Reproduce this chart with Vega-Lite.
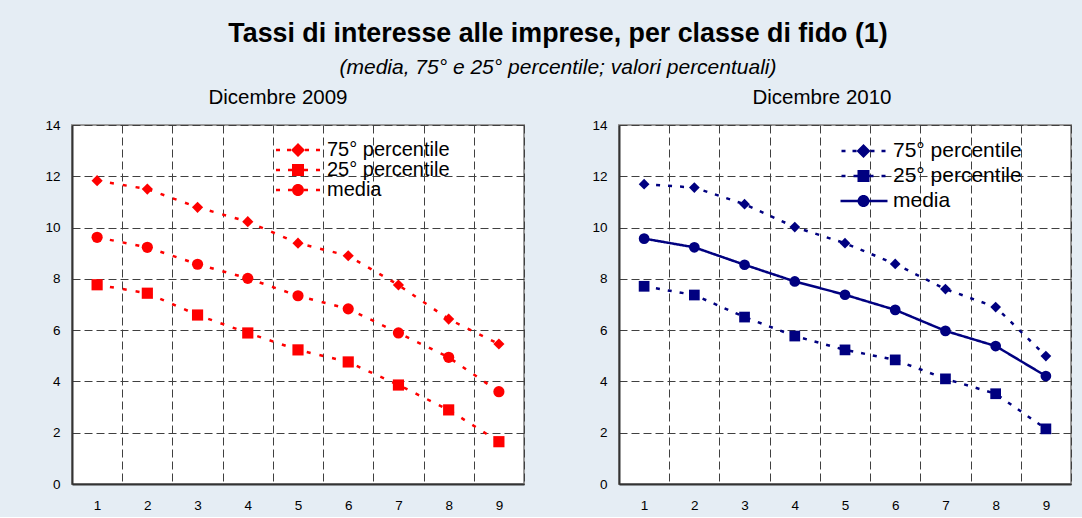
{
  "$schema": "https://vega.github.io/schema/vega-lite/v6.json",
  "background": "#E5EDF4",
  "padding": {"left": 43, "top": 20, "right": 16, "bottom": 4},
  "title": {
    "text": "Tassi di interesse alle imprese, per classe di fido (1)",
    "subtitle": "(media, 75° e 25° percentile; valori percentuali)",
    "font": "Liberation Sans", "fontSize": 26.8, "fontWeight": "bold", "color": "#000000",
    "subtitleFont": "Liberation Sans", "subtitleFontSize": 21, "subtitleFontStyle": "italic", "subtitleColor": "#000000",
    "subtitlePadding": 9, "offset": 9, "anchor": "middle"
  },
  "datasets": {
    "tassi": [
      {"anno": 2009, "classe": 1, "serie": "75° percentile", "valore": 11.83},
      {"anno": 2009, "classe": 2, "serie": "75° percentile", "valore": 11.5},
      {"anno": 2009, "classe": 3, "serie": "75° percentile", "valore": 10.79},
      {"anno": 2009, "classe": 4, "serie": "75° percentile", "valore": 10.23},
      {"anno": 2009, "classe": 5, "serie": "75° percentile", "valore": 9.39},
      {"anno": 2009, "classe": 6, "serie": "75° percentile", "valore": 8.9},
      {"anno": 2009, "classe": 7, "serie": "75° percentile", "valore": 7.76},
      {"anno": 2009, "classe": 8, "serie": "75° percentile", "valore": 6.43},
      {"anno": 2009, "classe": 9, "serie": "75° percentile", "valore": 5.46},
      {"anno": 2009, "classe": 1, "serie": "25° percentile", "valore": 7.77},
      {"anno": 2009, "classe": 2, "serie": "25° percentile", "valore": 7.44},
      {"anno": 2009, "classe": 3, "serie": "25° percentile", "valore": 6.59},
      {"anno": 2009, "classe": 4, "serie": "25° percentile", "valore": 5.89},
      {"anno": 2009, "classe": 5, "serie": "25° percentile", "valore": 5.23},
      {"anno": 2009, "classe": 6, "serie": "25° percentile", "valore": 4.76},
      {"anno": 2009, "classe": 7, "serie": "25° percentile", "valore": 3.86},
      {"anno": 2009, "classe": 8, "serie": "25° percentile", "valore": 2.89},
      {"anno": 2009, "classe": 9, "serie": "25° percentile", "valore": 1.65},
      {"anno": 2009, "classe": 1, "serie": "media", "valore": 9.62},
      {"anno": 2009, "classe": 2, "serie": "media", "valore": 9.23},
      {"anno": 2009, "classe": 3, "serie": "media", "valore": 8.57},
      {"anno": 2009, "classe": 4, "serie": "media", "valore": 8.02},
      {"anno": 2009, "classe": 5, "serie": "media", "valore": 7.34},
      {"anno": 2009, "classe": 6, "serie": "media", "valore": 6.83},
      {"anno": 2009, "classe": 7, "serie": "media", "valore": 5.89},
      {"anno": 2009, "classe": 8, "serie": "media", "valore": 4.94},
      {"anno": 2009, "classe": 9, "serie": "media", "valore": 3.6},
      {"anno": 2010, "classe": 1, "serie": "75° percentile", "valore": 11.69},
      {"anno": 2010, "classe": 2, "serie": "75° percentile", "valore": 11.56},
      {"anno": 2010, "classe": 3, "serie": "75° percentile", "valore": 10.91},
      {"anno": 2010, "classe": 4, "serie": "75° percentile", "valore": 10.02},
      {"anno": 2010, "classe": 5, "serie": "75° percentile", "valore": 9.39},
      {"anno": 2010, "classe": 6, "serie": "75° percentile", "valore": 8.58},
      {"anno": 2010, "classe": 7, "serie": "75° percentile", "valore": 7.6},
      {"anno": 2010, "classe": 8, "serie": "75° percentile", "valore": 6.9},
      {"anno": 2010, "classe": 9, "serie": "75° percentile", "valore": 4.99},
      {"anno": 2010, "classe": 1, "serie": "25° percentile", "valore": 7.71},
      {"anno": 2010, "classe": 2, "serie": "25° percentile", "valore": 7.37},
      {"anno": 2010, "classe": 3, "serie": "25° percentile", "valore": 6.51},
      {"anno": 2010, "classe": 4, "serie": "25° percentile", "valore": 5.77},
      {"anno": 2010, "classe": 5, "serie": "25° percentile", "valore": 5.23},
      {"anno": 2010, "classe": 6, "serie": "25° percentile", "valore": 4.84},
      {"anno": 2010, "classe": 7, "serie": "25° percentile", "valore": 4.1},
      {"anno": 2010, "classe": 8, "serie": "25° percentile", "valore": 3.52},
      {"anno": 2010, "classe": 9, "serie": "25° percentile", "valore": 2.15},
      {"anno": 2010, "classe": 1, "serie": "media", "valore": 9.57},
      {"anno": 2010, "classe": 2, "serie": "media", "valore": 9.23},
      {"anno": 2010, "classe": 3, "serie": "media", "valore": 8.55},
      {"anno": 2010, "classe": 4, "serie": "media", "valore": 7.9},
      {"anno": 2010, "classe": 5, "serie": "media", "valore": 7.38},
      {"anno": 2010, "classe": 6, "serie": "media", "valore": 6.79},
      {"anno": 2010, "classe": 7, "serie": "media", "valore": 5.97},
      {"anno": 2010, "classe": 8, "serie": "media", "valore": 5.38},
      {"anno": 2010, "classe": 9, "serie": "media", "valore": 4.21}
    ]
  },
  "spacing": 65,
  "hconcat": [
    {
      "title": {"text": "Dicembre 2009", "dx": -20},
      "width": 452,
      "height": 359,
      "data": {"name": "tassi"},
      "transform": [{"filter": "datum.anno == 2009"}],
      "encoding": {
        "x": {"field": "classe", "type": "ordinal", "scale": {"type": "band", "paddingInner": 0, "paddingOuter": 0}, "axis": {"title": null}},
        "y": {"field": "valore", "type": "quantitative", "scale": {"domain": [0, 14], "nice": false}, "axis": {"title": null}}
      },
      "layer": [
        {
          "mark": {"type": "line", "strokeWidth": 2.5},
          "encoding": {
            "color": {"field": "serie", "type": "nominal", "scale": {"domain": ["75° percentile", "25° percentile", "media"], "range": ["#FF0000", "#FF0000", "#FF0000"]}, "legend": null},
            "strokeDash": {"field": "serie", "type": "nominal", "scale": {"domain": ["75° percentile", "25° percentile", "media"], "range": [[4, 9], [4, 9], [4, 9]]}, "legend": null}
          }
        },
        {
          "mark": {"type": "point", "filled": true, "opacity": 1, "size": 125, "color": "#FF0000"},
          "encoding": {
            "shape": {"field": "serie", "type": "nominal", "scale": {"domain": ["75° percentile", "25° percentile", "media"], "range": ["diamond", "square", "circle"]}, "legend": null}
          }
        },
        {
          "mark": {"type": "point", "filled": true, "opacity": 0, "size": 4, "color": "#FF0000"},
          "encoding": {
            "shape": {
              "field": "serie", "type": "nominal",
              "scale": {"domain": ["75° percentile", "25° percentile", "media"], "range": [
                "M-22,-1.3L-18,-1.3L-18,1.3L-22,1.3Z M-11,-1.3L-7,-1.3L-7,1.3L-11,1.3Z M-7,0L0,-7L7,0L0,7Z M7,-1.3L11,-1.3L11,1.3L7,1.3Z M18,-1.3L22,-1.3L22,1.3L18,1.3Z",
                "M-22,-1.3L-18,-1.3L-18,1.3L-22,1.3Z M-10,-1.3L-6,-1.3L-6,1.3L-10,1.3Z M-6,-6L6,-6L6,6L-6,6Z M6,-1.3L10,-1.3L10,1.3L6,1.3Z M18,-1.3L22,-1.3L22,1.3L18,1.3Z",
                "M-22,-1.3L-18,-1.3L-18,1.3L-22,1.3Z M-10,-1.3L-6,-1.3L-6,1.3L-10,1.3Z M-6,0A6,6,0,1,1,6,0A6,6,0,1,1,-6,0Z M6,-1.3L10,-1.3L10,1.3L6,1.3Z M18,-1.3L22,-1.3L22,1.3L18,1.3Z"
              ]},
              "legend": {
                "orient": "none", "legendX": 216, "legendY": 15, "title": null,
                "labelOffset": 19, "rowPadding": -1, "labelFontSize": 20,
                "symbolSize": 4, "symbolOpacity": 1, "symbolFillColor": "#FF0000", "symbolStrokeWidth": 0
              }
            }
          }
        }
      ],
      "resolve": {"scale": {"shape": "independent"}, "legend": {"shape": "independent"}}
    },
    {
      "title": {"text": "Dicembre 2010", "dx": -23},
      "width": 452,
      "height": 359,
      "data": {"name": "tassi"},
      "transform": [{"filter": "datum.anno == 2010"}],
      "encoding": {
        "x": {"field": "classe", "type": "ordinal", "scale": {"type": "band", "paddingInner": 0, "paddingOuter": 0}, "axis": {"title": null}},
        "y": {"field": "valore", "type": "quantitative", "scale": {"domain": [0, 14], "nice": false}, "axis": {"title": null}}
      },
      "layer": [
        {
          "mark": {"type": "line", "strokeWidth": 2.5},
          "encoding": {
            "color": {"field": "serie", "type": "nominal", "scale": {"domain": ["75° percentile", "25° percentile", "media"], "range": ["#000080", "#000080", "#000080"]}, "legend": null},
            "strokeDash": {"field": "serie", "type": "nominal", "scale": {"domain": ["75° percentile", "25° percentile", "media"], "range": [[4, 8], [4, 8], [1, 0]]}, "legend": null}
          }
        },
        {
          "mark": {"type": "point", "filled": true, "opacity": 1, "size": 115, "color": "#000080"},
          "encoding": {
            "shape": {"field": "serie", "type": "nominal", "scale": {"domain": ["75° percentile", "25° percentile", "media"], "range": ["diamond", "square", "circle"]}, "legend": null}
          }
        },
        {
          "mark": {"type": "point", "filled": true, "opacity": 0, "size": 4, "color": "#000080"},
          "encoding": {
            "shape": {
              "field": "serie", "type": "nominal",
              "scale": {"domain": ["75° percentile", "25° percentile", "media"], "range": [
                "M-22,-1.3L-18,-1.3L-18,1.3L-22,1.3Z M-11,-1.3L-7,-1.3L-7,1.3L-11,1.3Z M-7,0L0,-7L7,0L0,7Z M7,-1.3L11,-1.3L11,1.3L7,1.3Z M18,-1.3L22,-1.3L22,1.3L18,1.3Z",
                "M-22,-1.3L-18,-1.3L-18,1.3L-22,1.3Z M-10,-1.3L-6,-1.3L-6,1.3L-10,1.3Z M-6,-6L6,-6L6,6L-6,6Z M6,-1.3L10,-1.3L10,1.3L6,1.3Z M18,-1.3L22,-1.3L22,1.3L18,1.3Z",
                "M-23,-1.2L-5,-1.2L-5,1.2L-23,1.2Z M5,-1.2L24,-1.2L24,1.2L5,1.2Z M-6,0A6,6,0,1,1,6,0A6,6,0,1,1,-6,0Z"
              ]},
              "legend": {
                "orient": "none", "legendX": 234, "legendY": 15.5, "title": null,
                "labelOffset": 19, "rowPadding": 3,
                "symbolSize": 4, "symbolOpacity": 1, "symbolFillColor": "#000080", "symbolStrokeWidth": 0
              }
            }
          }
        }
      ],
      "resolve": {"scale": {"shape": "independent"}, "legend": {"shape": "independent"}}
    }
  ],
  "resolve": {
    "scale": {"color": "independent", "strokeDash": "independent", "shape": "independent"},
    "legend": {"shape": "independent"}
  },
  "config": {
    "font": "Liberation Sans",
    "view": {"fill": "#FFFFFF", "stroke": "#9A9A9A", "strokeWidth": 2},
    "axis": {
      "labelFont": "Liberation Sans", "labelFontSize": 13.5, "labelColor": "#000000",
      "ticks": false, "domainColor": "#333333", "domainWidth": 2,
      "grid": true, "gridColor": "#404040", "gridDash": [8, 4], "gridWidth": 1, "gridOpacity": 1
    },
    "axisX": {"labelPadding": 14, "labelAngle": 0, "tickBand": "extent"},
    "axisY": {"labelPadding": 12, "values": [0, 2, 4, 6, 8, 10, 12, 14]},
    "title": {"font": "Liberation Sans", "fontSize": 20.5, "fontWeight": "normal", "color": "#000000", "offset": 10},
    "legend": {
      "labelFont": "Liberation Sans", "labelFontSize": 21, "labelColor": "#000000", "labelLimit": 300,
      "symbolSize": 4, "padding": 0
    }
  }
}
